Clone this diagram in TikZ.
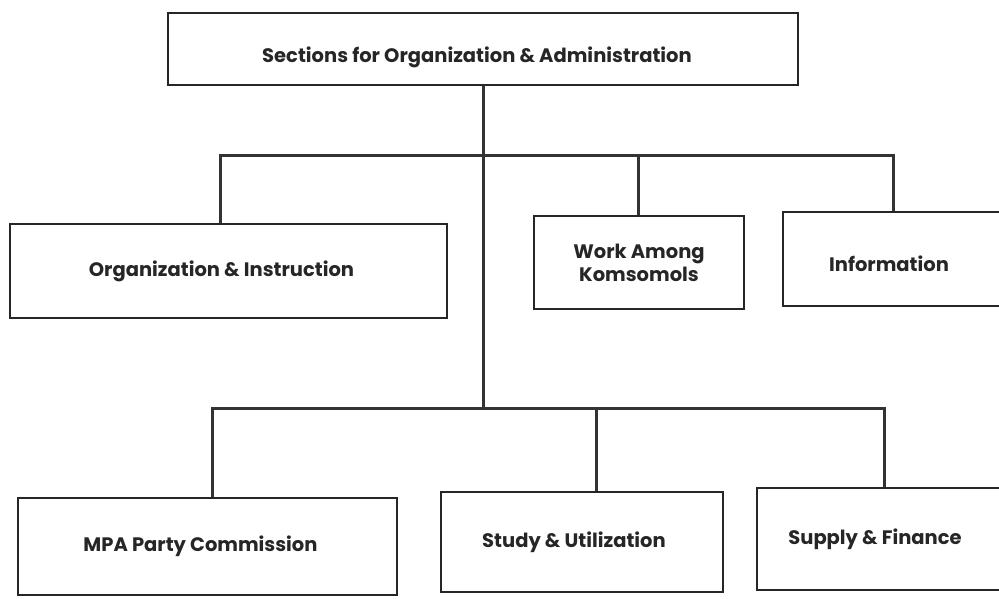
\documentclass[tikz,border=0pt]{standalone}
\usepackage{fontspec}
\setmainfont{Poppins}
\begin{document}
\begin{tikzpicture}[x=1pt,y=-1pt,
  box/.style={draw=black!85, line width=2.4pt, rectangle, inner sep=0pt,
    align=center, font=\bfseries\fontsize{19.5}{23}\selectfont, text=black!85},
  conn/.style={draw=black!80, line width=3pt}]
\useasboundingbox (0,0) rectangle (999,598);
\begin{scope}
\clip (0,0) rectangle (999,598);
% boxes
\node[box, minimum width=630pt, minimum height=72pt] (top) at (483,49)
  {\hspace*{-12pt}\raisebox{-13pt}[0pt][0pt]{Sections for Organization \& Administration}};
\node[box, minimum width=437pt, minimum height=94pt] (org) at (228.5,271)
  {\hspace*{-14pt}Organization \& Instruction};
\node[box, minimum width=210pt, minimum height=93pt] (work) at (639,262.5)
  {Work Among\\Komsomols};
\node[box, minimum width=230pt, minimum height=94pt] (info) at (898,259)
  {\hspace*{-18pt}\raisebox{-12pt}[0pt][0pt]{Information}};
\node[box, minimum width=379pt, minimum height=97pt] (mpa) at (207.5,546.5)
  {\hspace*{-14pt}MPA Party Commission};
\node[box, minimum width=282pt, minimum height=100pt] (study) at (582,542)
  {\hspace*{-16pt}Study \& Utilization};
\node[box, minimum width=248pt, minimum height=102pt] (supply) at (881,539)
  {\hspace*{-12pt}Supply \& Finance};
% bus coordinates
\coordinate (u1) at (220,155);
\coordinate (u2) at (638,155);
\coordinate (u3) at (893,155);
\coordinate (l1) at (212,408);
\coordinate (l2) at (596,408);
\coordinate (l3) at (884,408);
% connectors
\draw[conn] (top.south) -- (top.south |- l1);
\draw[conn] (org.north -| u1) -- (u1) -- (u3) -- (info.north -| u3);
\draw[conn] (work.north -| u2) -- (u2);
\draw[conn] (mpa.north -| l1) -- (l1) -- (l3) -- (supply.north -| l3);
\draw[conn] (study.north -| l2) -- (l2);
\end{scope}
\end{tikzpicture}
\end{document}
